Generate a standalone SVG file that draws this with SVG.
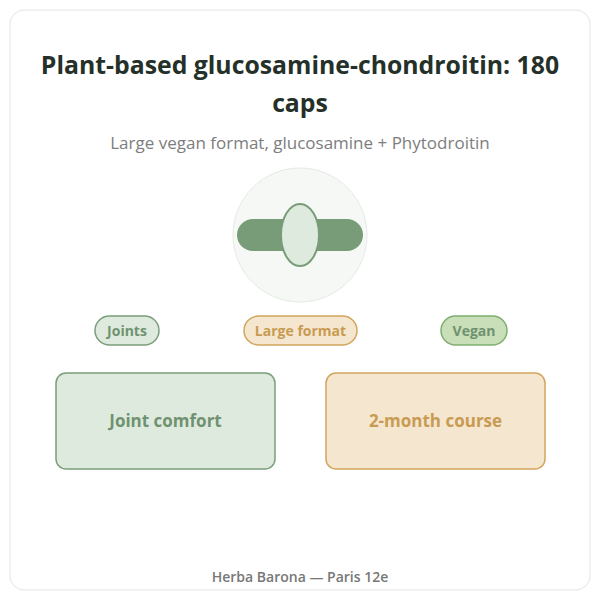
<svg xmlns="http://www.w3.org/2000/svg" width="600" height="600" viewBox="0 0 600 600">
<style>
text{font-family:"Open Sans","Noto Sans",sans-serif;text-anchor:middle}
.g{fill:#dfeadf;stroke:#7a9e7a;stroke-width:1.5}
.o{fill:#f4e6cf;stroke:#d3a55c;stroke-width:1.5}
.v{fill:#c9dfb9;stroke:#7fae6e;stroke-width:1.5}
.gt{fill:#6f9270;font-weight:bold}
.ot{fill:#c99b52;font-weight:bold}
</style>
<rect x="0" y="0" width="600" height="600" fill="#ffffff"/>
<rect x="10" y="10" width="580" height="580" rx="14" fill="#ffffff" stroke="#e4e4e4"/>
<text x="300" y="74" font-size="24.8" font-weight="bold" fill="#243028">Plant-based glucosamine-chondroitin: 180</text>
<text x="300" y="112" font-size="24.8" font-weight="bold" fill="#243028">caps</text>
<text x="300" y="149" font-size="17" fill="#7d7d7d">Large vegan format, glucosamine + Phytodroitin</text>
<g id="icon">
<circle cx="300" cy="235" r="67" fill="#f5f8f4" stroke="#e4ebe3"/>
<rect x="237" y="219" width="126" height="32" rx="16" fill="#789c78"/>
<ellipse cx="300" cy="235" rx="19" ry="31" fill="#dfeadf" stroke="#789c78" stroke-width="2"/>
</g>
<g id="tag-joints"><rect x="95" y="316" width="64" height="29" rx="14.5" class="g"/><text x="127" y="336" font-size="14" class="gt">Joints</text></g>
<g id="tag-large"><rect x="244" y="316" width="113" height="29" rx="14.5" class="o"/><text x="300.5" y="336" font-size="14" class="ot">Large format</text></g>
<g id="tag-vegan"><rect x="441" y="316" width="66" height="29" rx="14.5" class="v"/><text x="474" y="336" font-size="14" class="gt">Vegan</text></g>
<g id="box-joint"><rect x="56" y="373" width="219" height="96" rx="10" class="g"/><text x="165.5" y="427" font-size="17" class="gt">Joint comfort</text></g>
<g id="box-course"><rect x="326" y="373" width="219" height="96" rx="10" class="o"/><text x="435.5" y="427" font-size="17" class="ot">2-month course</text></g>
<text x="300" y="582" font-size="14" font-weight="600" fill="#777777">Herba Barona — Paris 12e</text>
</svg>
